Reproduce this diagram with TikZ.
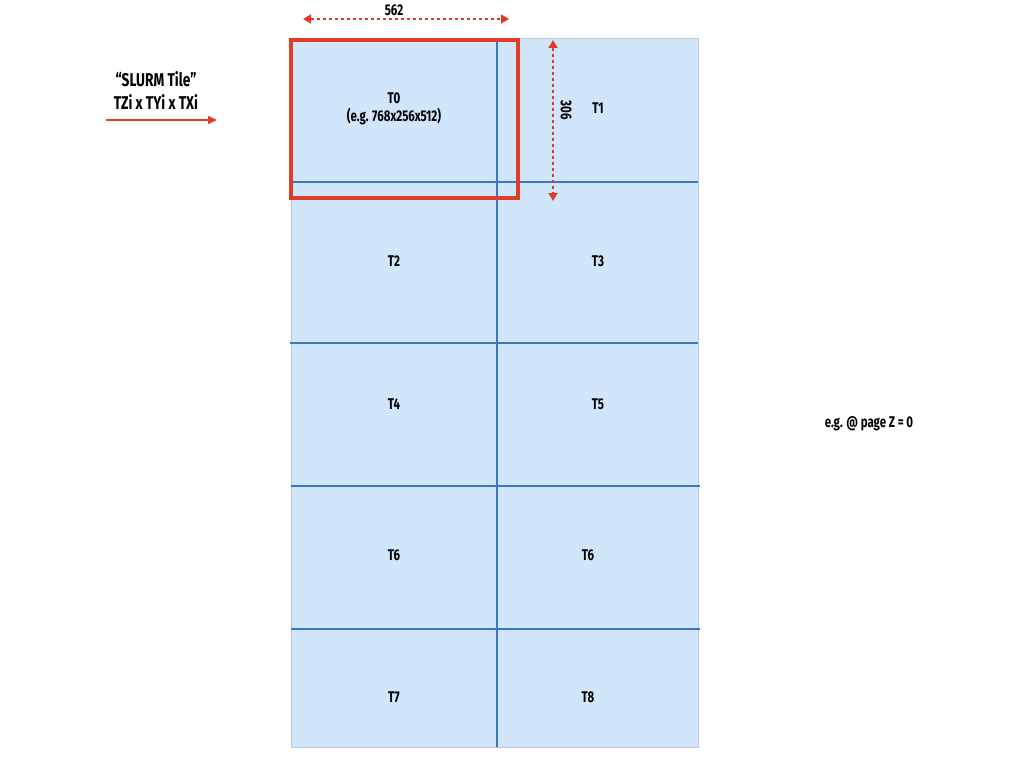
\documentclass[tikz,border=0pt]{standalone}
\usepackage{fontspec}
\setmainfont{Fira Sans}[FakeStretch=0.74]
\usetikzlibrary{arrows.meta}
\definecolor{tilefill}{HTML}{D1E5FB}
\definecolor{tileedge}{HTML}{BFC9D4}
\definecolor{gridblue}{HTML}{3A78C0}
\definecolor{redc}{HTML}{E03C28}
\tikzset{
  lbl/.style={font=\fontsize{15.5}{17}\selectfont\bfseries, text=black, inner sep=0pt, align=center},
  big/.style={font=\fontsize{18.5}{21}\selectfont\bfseries, text=black, inner sep=0pt, align=center},
  gridline/.style={draw=gridblue, line width=1.6pt},
  dim/.style={draw=redc, line width=1.8pt, dash pattern=on 3pt off 3pt, {Triangle[length=8pt,width=9pt]}-{Triangle[length=8pt,width=9pt]}},
}
\begin{document}
\begin{tikzpicture}[x=1pt,y=-1pt]
\useasboundingbox (0,0) rectangle (1024,768);
% grid background
\draw[fill=tilefill, draw=tileedge, line width=1pt] (291,39) rectangle (698,747);
\coordinate (vt) at (497,39); \coordinate (vb) at (497,747);
\draw[gridline] (vt) -- (vb);
\coordinate (h1l) at (291,182); \coordinate (h1r) at (698,182);
\coordinate (h2l) at (290,343); \coordinate (h2r) at (698,343);
\coordinate (h3l) at (291,486); \coordinate (h3r) at (700,486);
\coordinate (h4l) at (291,629); \coordinate (h4r) at (700,629);
\draw[gridline] (h1l) -- (h1r);
\draw[gridline] (h2l) -- (h2r);
\draw[gridline] (h3l) -- (h3r);
\draw[gridline] (h4l) -- (h4r);
% red tile
\draw[draw=redc, line width=3.5pt] (291,40) rectangle (518,198);
% tile labels
\node[lbl] (t0) at (394,98) {T0};
\node[lbl] (t0e) at (394,117) {(e.g. 768x256x512)};
\node[lbl] (t1) at (598,108) {T1};
\node[lbl] (t2) at (394,261) {T2};
\node[lbl] (t3) at (598,261) {T3};
\node[lbl] (t4) at (394,404) {T4};
\node[lbl] (t5) at (598,404) {T5};
\node[lbl] (t6a) at (394,555) {T6};
\node[lbl] (t6b) at (588,555) {T6};
\node[lbl] (t7) at (394,697) {T7};
\node[lbl] (t8) at (588,697) {T8};
% dimensions
\coordinate (dl) at (303,19); \coordinate (dr) at (509,19);
\draw[dim] (dl) -- (dr);
\node[lbl] (w) at (394,10) {562};
\coordinate (dt) at (553,40); \coordinate (db) at (553,201);
\draw[dim] (dt) -- (db);
\node[lbl, rotate=-90] (h) at (566,110) {306};
% slurm tile legend
\node[big] (s1) at (156,79) {“SLURM Tile”};
\node[big] (s2) at (156,102) {TZi x TYi x TXi};
\coordinate (al) at (106,120); \coordinate (ar) at (217,120);
\draw[draw=redc, line width=1.5pt, -{Triangle[length=9pt,width=8pt]}] (al) -- (ar);
% page note
\node[lbl] (pz) at (869,424) {e.g. @ page Z = 0};
\end{tikzpicture}
\end{document}
